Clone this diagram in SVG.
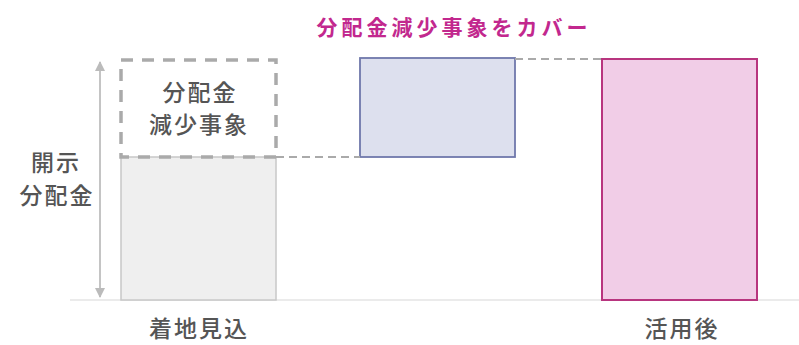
<svg xmlns="http://www.w3.org/2000/svg" width="799" height="345" viewBox="0 0 799 345">
<style>
.lbl{font-family:"Noto Sans CJK JP","Noto Sans",sans-serif;font-size:23px;fill:#555;text-anchor:middle;letter-spacing:2px;font-weight:500}
.ttl{font-family:"Noto Sans CJK JP","Noto Sans",sans-serif;font-size:21px;fill:#c2288e;text-anchor:middle;font-weight:700;letter-spacing:4px}
.dash{stroke:#aaa;stroke-width:2;stroke-dasharray:8 5;fill:none}
</style>
<defs>
<marker id="ah" viewBox="0 0 10 10" refX="9" refY="5" markerWidth="5" markerHeight="5" orient="auto-start-reverse">
<path d="M0,0 L10,5 L0,10 z" fill="#bbb"/>
</marker>
</defs>
<rect width="799" height="345" fill="#fff"/>
<line x1="70" y1="300" x2="799" y2="300" stroke="#e4e4e4" stroke-width="1.5"/>
<g id="title"><text class="ttl" x="454" y="35">分配金減少事象をカバー</text></g>
<g id="axis">
<line x1="100" y1="62" x2="100" y2="297" stroke="#c4c4c4" stroke-width="2" marker-start="url(#ah)" marker-end="url(#ah)"/>
<text class="lbl" x="56" y="171">開示</text>
<text class="lbl" x="57" y="204">分配金</text>
</g>
<g id="bar-landing">
<rect x="121" y="157" width="155" height="143" fill="#efefef" stroke="#c8c8c8" stroke-width="1.5"/>
<text class="lbl" x="199" y="337">着地見込</text>
</g>
<g id="bar-event">
<rect x="121" y="60" width="155" height="97" fill="none" stroke="#aaa" stroke-width="3.5" stroke-dasharray="12 9"/>
<text class="lbl" x="200" y="101">分配金</text>
<text class="lbl" x="199" y="133">減少事象</text>
</g>
<g id="bar-cover">
<rect x="360" y="58" width="155" height="99" fill="#dde0ee" stroke="#6f78ab" stroke-width="1.8"/>
</g>
<g id="bar-after">
<rect x="602" y="59" width="155" height="241" fill="#f1cde7" stroke="#b8357f" stroke-width="2"/>
<text class="lbl" x="682" y="337">活用後</text>
</g>
<g id="connectors">
<line class="dash" x1="276" y1="157" x2="360" y2="157"/>
<line class="dash" x1="515" y1="59" x2="602" y2="59"/>
</g>
</svg>
